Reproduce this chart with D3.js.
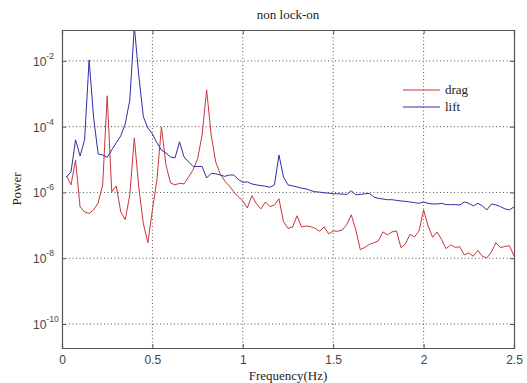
<!DOCTYPE html>
<html>
<head>
<meta charset="utf-8">
<script src="https://cdn.jsdelivr.net/npm/d3@7"></script>
<style>
  body { margin: 0; background: #fff; }
  .serif { font-family: 'Liberation Serif', 'Times New Roman', serif; }
  .sans { font-family: 'Liberation Sans', Arial, sans-serif; }
</style>
</head>
<body>
<div id="chart"></div>
<script>
// power spectra, values read as log10(power), one per 0.025 Hz bin
let freqStep = 0.025

let dragExp = [
  -5.50, -5.77, -5.01, -6.44, -6.59, -6.64, -6.53, -6.32, -5.77, -3.06,
  -5.98, -5.80, -6.59, -6.83, -6.07, -4.34, -5.86, -6.95, -7.53, -6.53,
  -5.62, -4.01, -5.16, -5.71, -5.77, -5.72, -5.74, -5.53, -5.31, -4.98,
  -4.25, -2.88, -4.25, -5.07, -5.43, -5.65, -5.80, -5.98, -6.13, -6.26,
  -6.47, -6.10, -6.34, -6.50, -6.29, -6.43, -6.38, -6.19, -6.89, -7.09,
  -7.05, -6.71, -7.05, -7.02, -7.04, -7.09, -7.18, -7.05, -7.26, -7.17,
  -7.18, -7.14, -6.98, -6.68, -7.14, -7.74, -7.67, -7.58, -7.53, -7.47,
  -7.20, -7.29, -7.20, -7.17, -7.68, -7.56, -7.27, -7.35, -7.17, -6.53,
  -7.02, -7.36, -7.20, -7.44, -7.71, -7.59, -7.67, -7.65, -7.90, -7.84,
  -7.94, -7.76, -7.94, -7.99, -7.81, -7.53, -7.68, -7.64, -7.62, -7.93
]

let liftExp = [
  -5.53, -5.37, -4.40, -4.89, -4.40, -1.97, -3.73, -4.83, -4.86, -4.93,
  -4.71, -4.49, -4.28, -3.91, -3.19, -0.95, -2.46, -3.70, -4.04, -4.22,
  -4.49, -4.71, -4.80, -4.92, -4.95, -4.46, -4.92, -5.07, -5.21, -5.21,
  -5.21, -5.56, -5.42, -5.43, -5.47, -5.51, -5.47, -5.47, -5.60, -5.69,
  -5.68, -5.74, -5.77, -5.79, -5.81, -5.84, -5.77, -4.86, -5.53, -5.77,
  -5.80, -5.83, -5.87, -5.89, -5.94, -5.98, -5.99, -6.01, -6.02, -6.04,
  -6.04, -6.05, -6.06, -5.95, -6.07, -6.06, -6.04, -6.03, -6.14, -6.18,
  -6.20, -6.22, -6.22, -6.24, -6.26, -6.27, -6.29, -6.31, -6.33, -6.29,
  -6.33, -6.35, -6.35, -6.33, -6.37, -6.37, -6.37, -6.38, -6.29, -6.33,
  -6.41, -6.33, -6.41, -6.53, -6.35, -6.38, -6.43, -6.50, -6.53, -6.44
]

let seriesNames = ['drag', 'lift']
let seriesColors = ['#c8363c', '#2f2fa6']

let xTicks = [0, 0.5, 1, 1.5, 2, 2.5]
let yTickExps = [-10, -8, -6, -4, -2]

let margin = { top: 30, left: 62, right: 13, bottom: 35 }
let width = 527 - margin.left - margin.right
let height = 383 - margin.top - margin.bottom

let svg = d3
  .select('#chart')
  .append('svg')
  .attr('width', width + margin.left + margin.right)
  .attr('height', height + margin.top + margin.bottom)
  .append('g')
  .attr('transform', 'translate(' + margin.left + ',' + margin.top + ')')

let xPositionScale = d3.scaleLinear().domain([0, 2.5]).range([0, width])
let yPositionScale = d3
  .scaleLog()
  .domain([Math.pow(10, -10.73), Math.pow(10, -1.06)])
  .range([height, 0])

let datapoints = seriesNames.map((name, i) => {
  let exps = i === 0 ? dragExp : liftExp
  return {
    key: name,
    color: seriesColors[i],
    values: exps.map((e, j) => ({ freq: (j + 1) * freqStep, power: Math.pow(10, e) }))
  }
})

// dotted grid
let grid = svg.append('g').attr('class', 'grid')

grid
  .selectAll('line.vgrid')
  .data(xTicks.slice(1, -1))
  .enter()
  .append('line')
  .attr('class', 'vgrid')
  .attr('x1', d => xPositionScale(d))
  .attr('x2', d => xPositionScale(d))
  .attr('y1', 0)
  .attr('y2', height)

grid
  .selectAll('line.hgrid')
  .data(yTickExps)
  .enter()
  .append('line')
  .attr('class', 'hgrid')
  .attr('x1', 0)
  .attr('x2', width)
  .attr('y1', d => yPositionScale(Math.pow(10, d)))
  .attr('y2', d => yPositionScale(Math.pow(10, d)))

grid
  .selectAll('line')
  .attr('stroke', '#555')
  .attr('stroke-width', 1)
  .attr('stroke-dasharray', '1,2.5')

// lines
svg
  .append('clipPath')
  .attr('id', 'clip')
  .append('rect')
  .attr('width', width)
  .attr('height', height)

let line = d3
  .line()
  .x(d => xPositionScale(d.freq))
  .y(d => yPositionScale(d.power))

svg
  .append('g')
  .attr('clip-path', 'url(#clip)')
  .selectAll('path')
  .data(datapoints)
  .enter()
  .append('path')
  .attr('d', d => line(d.values))
  .attr('fill', 'none')
  .attr('stroke', d => d.color)
  .attr('stroke-width', 1)

// axes with inward ticks, box all round
let xAxis = d3
  .axisBottom(xPositionScale)
  .tickValues(xTicks)
  .tickSize(-4)
  .tickPadding(7)
  .tickFormat(d3.format('~g'))
svg
  .append('g')
  .attr('class', 'axis x-axis')
  .attr('transform', 'translate(0,' + height + ')')
  .call(xAxis)

svg
  .append('g')
  .attr('class', 'axis')
  .call(d3.axisTop(xPositionScale).tickValues(xTicks).tickSize(-4).tickFormat(''))

let yAxis = d3
  .axisLeft(yPositionScale)
  .tickValues(yTickExps.map(e => Math.pow(10, e)))
  .tickSize(-4)
  .tickFormat('')
svg
  .append('g')
  .attr('class', 'axis y-axis')
  .call(yAxis)

svg
  .append('g')
  .attr('class', 'axis')
  .attr('transform', 'translate(' + width + ',0)')
  .call(d3.axisRight(yPositionScale).tickValues(yTickExps.map(e => Math.pow(10, e))).tickSize(-4).tickFormat(''))

svg.selectAll('.axis .domain').attr('stroke', '#555').attr('stroke-width', 1.2)
svg.selectAll('.axis .tick line').attr('stroke', '#555')
svg
  .selectAll('.x-axis text')
  .attr('class', 'sans')
  .attr('font-size', 12)
  .attr('fill', '#444')

// log tick labels 10^n
let yLabels = svg
  .selectAll('.ylabel')
  .data(yTickExps)
  .enter()
  .append('text')
  .attr('class', 'ylabel sans')
  .attr('x', -29)
  .attr('y', d => yPositionScale(Math.pow(10, d)) + 5)
  .attr('font-size', 12)
  .attr('fill', '#444')
yLabels.append('tspan').text('10')
yLabels
  .append('tspan')
  .attr('dy', -7)
  .attr('font-size', 8.5)
  .text(d => d)

// title and axis titles
svg
  .append('text')
  .attr('class', 'serif')
  .attr('x', width / 2)
  .attr('y', -11)
  .attr('text-anchor', 'middle')
  .attr('font-size', 13)
  .attr('fill', '#222')
  .text('non lock-on')

svg
  .append('text')
  .attr('class', 'serif')
  .attr('x', width / 2)
  .attr('y', height + 32)
  .attr('text-anchor', 'middle')
  .attr('font-size', 13)
  .attr('fill', '#222')
  .text('Frequency(Hz)')

svg
  .append('text')
  .attr('class', 'serif')
  .attr('transform', 'translate(-41,' + height / 2 + ') rotate(-90)')
  .attr('text-anchor', 'middle')
  .attr('font-size', 13)
  .attr('fill', '#222')
  .text('Power')

// legend, no box
let legend = svg
  .selectAll('.legend')
  .data(datapoints)
  .enter()
  .append('g')
  .attr('class', 'legend')
  .attr('transform', (d, i) => 'translate(341,' + (60 + i * 17) + ')')

legend
  .append('line')
  .attr('x1', 0)
  .attr('x2', 37)
  .attr('stroke', d => d.color)
  .attr('stroke-width', 1)

legend
  .append('text')
  .attr('class', 'serif')
  .attr('x', 42)
  .attr('y', 4)
  .attr('font-size', 13)
  .attr('fill', '#222')
  .text(d => d.key)
</script>
</body>
</html>
